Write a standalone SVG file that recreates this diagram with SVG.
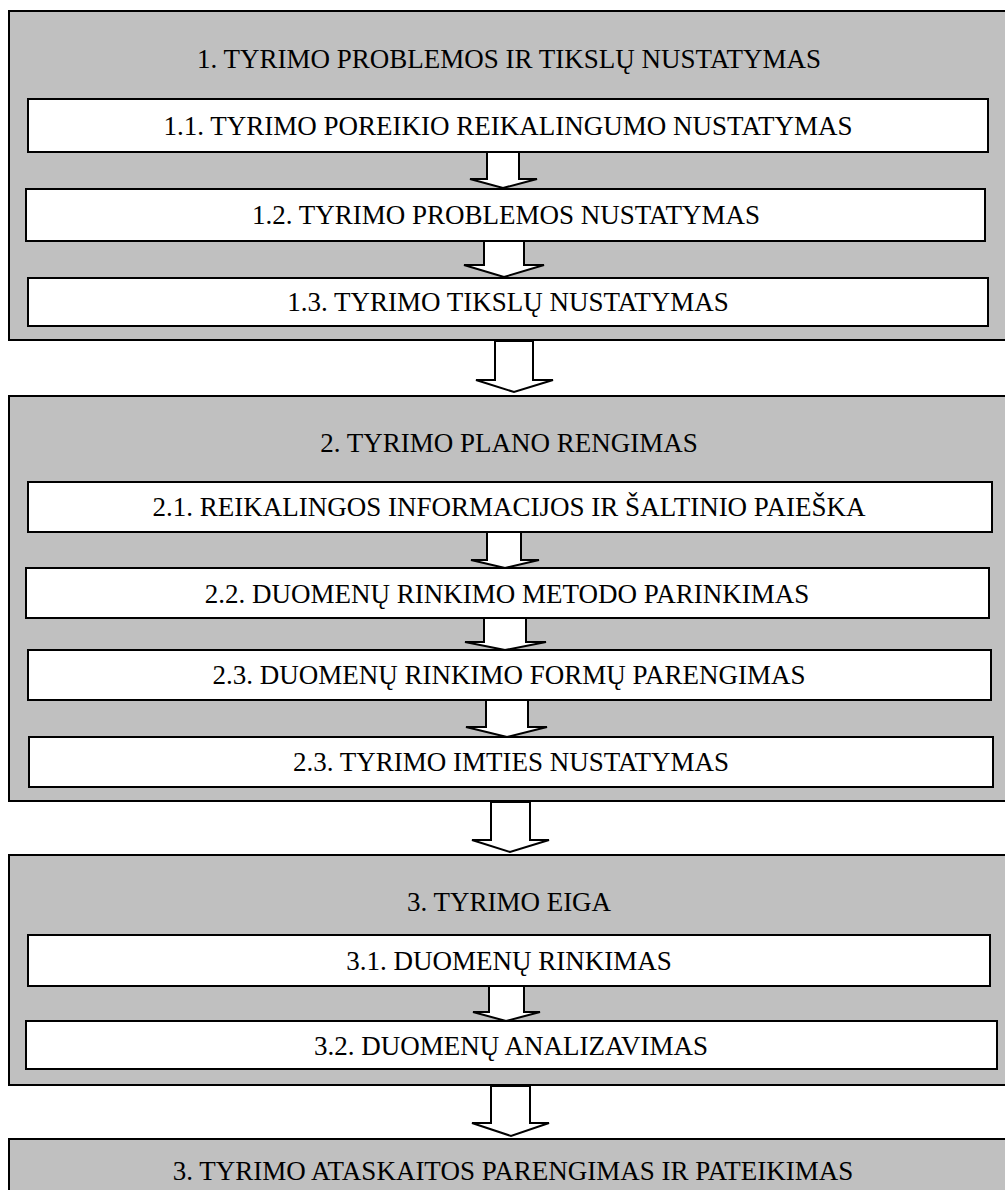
<svg xmlns="http://www.w3.org/2000/svg" width="1005" height="1190" viewBox="0 0 1005 1190">
  <style>
    .panel { fill: #c0c0c0; stroke: #000; stroke-width: 2; }
    .box { fill: #fff; stroke: #000; stroke-width: 2; }
    .arrow { fill: #fff; stroke: #000; stroke-width: 2; stroke-linejoin: miter; }
    text { font-family: "Liberation Serif", "Times New Roman", serif; font-size: 27px; fill: #000; text-anchor: middle; }
  </style>
  <rect width="1005" height="1190" fill="#fff"/>

  <!-- Stage 1 -->
  <g id="stage1">
    <rect class="panel" x="9" y="11" width="1000" height="329"/>
    <text x="509" y="68">1. TYRIMO PROBLEMOS IR TIKSLŲ NUSTATYMAS</text>
  </g>
  <g id="step1-1">
    <rect class="box" x="28" y="99" width="960" height="53"/>
    <text x="508" y="135">1.1. TYRIMO POREIKIO REIKALINGUMO NUSTATYMAS</text>
  </g>
  <g id="step1-2">
    <rect class="box" x="26" y="189" width="959" height="52"/>
    <text x="506" y="224">1.2. TYRIMO PROBLEMOS NUSTATYMAS</text>
  </g>
  <g id="step1-3">
    <rect class="box" x="28" y="278" width="960" height="48"/>
    <text x="508" y="311">1.3. TYRIMO TIKSLŲ NUSTATYMAS</text>
  </g>

  <!-- Stage 2 -->
  <g id="stage2">
    <rect class="panel" x="9" y="396" width="1000" height="405"/>
    <text x="509" y="452">2. TYRIMO PLANO RENGIMAS</text>
  </g>
  <g id="step2-1">
    <rect class="box" x="28" y="482" width="964" height="50"/>
    <text x="509" y="516">2.1. REIKALINGOS INFORMACIJOS IR ŠALTINIO PAIEŠKA</text>
  </g>
  <g id="step2-2">
    <rect class="box" x="26" y="568" width="963" height="50"/>
    <text x="507" y="603">2.2. DUOMENŲ RINKIMO METODO PARINKIMAS</text>
  </g>
  <g id="step2-3">
    <rect class="box" x="28" y="650" width="963" height="50"/>
    <text x="509" y="684">2.3. DUOMENŲ RINKIMO FORMŲ PARENGIMAS</text>
  </g>
  <g id="step2-4">
    <rect class="box" x="29" y="737" width="964" height="50"/>
    <text x="511" y="771">2.3. TYRIMO IMTIES NUSTATYMAS</text>
  </g>

  <!-- Stage 3 -->
  <g id="stage3">
    <rect class="panel" x="9" y="855" width="1000" height="230"/>
    <text x="509" y="911">3. TYRIMO EIGA</text>
  </g>
  <g id="step3-1">
    <rect class="box" x="28" y="935" width="962" height="51"/>
    <text x="509" y="970">3.1. DUOMENŲ RINKIMAS</text>
  </g>
  <g id="step3-2">
    <rect class="box" x="26" y="1021" width="971" height="48"/>
    <text x="511" y="1055">3.2. DUOMENŲ ANALIZAVIMAS</text>
  </g>

  <!-- Stage 4 -->
  <g id="stage4">
    <rect class="panel" x="9" y="1139" width="1000" height="60"/>
    <text x="513" y="1180">3. TYRIMO ATASKAITOS PARENGIMAS IR PATEIKIMAS</text>
  </g>

  <!-- Block arrows between steps and stages -->
  <g id="connectors">
    <polygon class="arrow" points="487,152 519,152 519,179 537,179 503,188 470,179 487,179"/>
    <polygon class="arrow" points="484,241 524,241 524,265 544,265 504,277 464,265 484,265"/>
    <polygon class="arrow" points="495,341 533,341 533,380 553,380 514,392 476,380 495,380"/>
    <polygon class="arrow" points="487,532 521,532 521,560 539,560 505,568 471,560 487,560"/>
    <polygon class="arrow" points="484,618 526,618 526,642 546,642 505,650 465,642 484,642"/>
    <polygon class="arrow" points="486,700 528,700 528,727 547,727 507,737 466,727 486,727"/>
    <polygon class="arrow" points="491,802 530,802 530,840 549,840 510,852 472,840 491,840"/>
    <polygon class="arrow" points="489,986 524,986 524,1012 540,1012 506,1021 473,1012 489,1012"/>
    <polygon class="arrow" points="491,1086 530,1086 530,1123 549,1123 511,1136 472,1123 491,1123"/>
  </g>
</svg>
